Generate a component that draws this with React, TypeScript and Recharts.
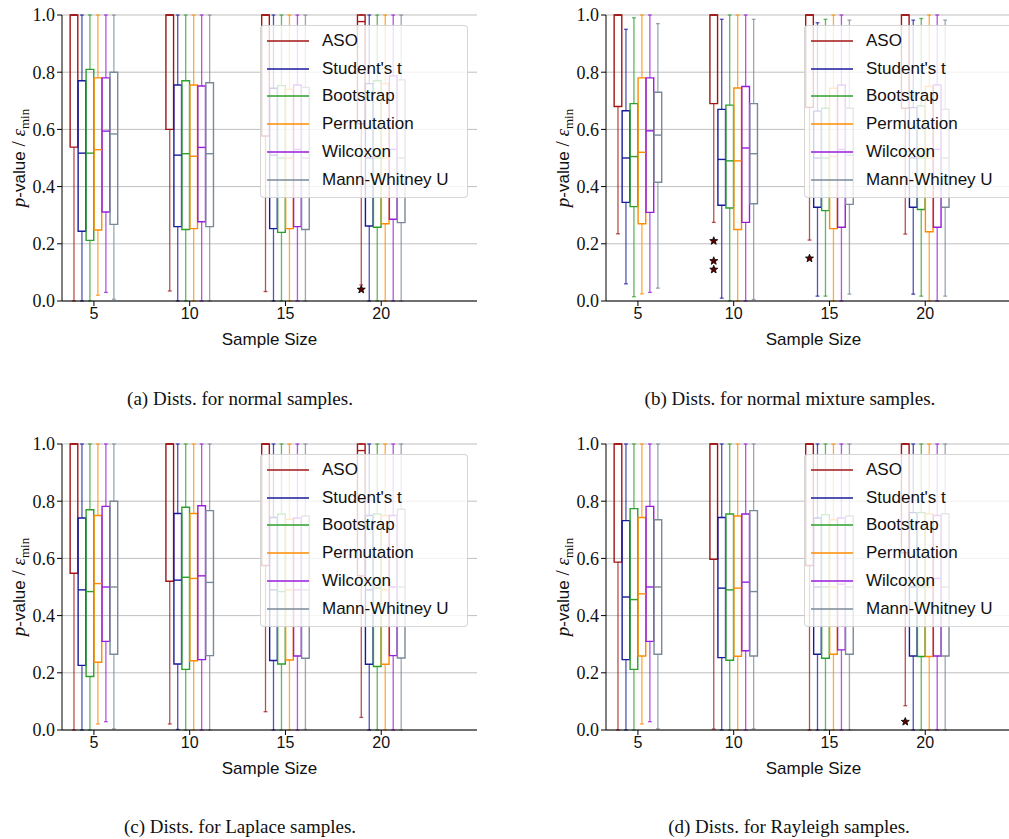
import React from 'react';
import {
  ComposedChart,
  XAxis,
  YAxis,
  CartesianGrid,
  ReferenceArea,
  ReferenceLine,
  Scatter,
} from 'recharts';

// ---------- categories / labels ----------
const SAMPLE_SIZES = [5, 10, 15, 20];
const METHODS = ['ASO', "Student's t", 'Bootstrap', 'Permutation', 'Wilcoxon', 'Mann-Whitney U'];
const METHOD_COLORS = ['#a31515', '#1a1a9c', '#2ca02c', '#ff8c00', '#9a1ddb', '#7a8999'];
const Y_TICKS = [0, 0.2, 0.4, 0.6, 0.8, 1.0];
const X_DOMAIN: [number, number] = [10 / 3, 25];

// ---------- values: [lower whisker, Q1, median, Q3, upper whisker] for sizes 5, 10, 15, 20 ----------
// (a) normal samples
const normalASO = [[0, 0.538, 1, 1, 1], [0.035, 0.6, 1, 1, 1], [0.033, 0.577, 1, 1, 1], [0.056, 0.62, 0.977, 1, 1]];
const normalStudent = [[0, 0.244, 0.517, 0.77, 1], [0, 0.26, 0.51, 0.755, 1], [0, 0.253, 0.51, 0.744, 1], [0, 0.262, 0.5, 0.76, 1]];
const normalBootstrap = [[0, 0.212, 0.517, 0.81, 1], [0, 0.25, 0.515, 0.77, 1], [0, 0.24, 0.5, 0.753, 1], [0, 0.258, 0.5, 0.77, 1]];
const normalPermutation = [[0.02, 0.248, 0.529, 0.78, 1], [0, 0.253, 0.506, 0.755, 1], [0, 0.253, 0.5, 0.74, 1], [0, 0.27, 0.5, 0.76, 1]];
const normalWilcoxon = [[0.03, 0.311, 0.594, 0.78, 1], [0, 0.277, 0.537, 0.752, 1], [0, 0.26, 0.53, 0.755, 1], [0, 0.286, 0.53, 0.787, 1]];
const normalMWU = [[0.006, 0.268, 0.584, 0.8, 1], [0, 0.26, 0.515, 0.763, 1], [0, 0.25, 0.5, 0.747, 1], [0, 0.274, 0.5, 0.773, 1]];
// fliers: [sample size, method index, value]
const normalFliers = [[20, 0, 0.04]];

// (b) normal mixture samples
const mixASO = [[0.235, 0.68, 1, 1, 1], [0.275, 0.69, 1, 1, 1], [0.213, 0.677, 1, 1, 1], [0.234, 0.674, 1, 1, 1]];
const mixStudent = [[0.06, 0.345, 0.5, 0.665, 0.95], [0.01, 0.335, 0.495, 0.67, 0.985], [0.017, 0.328, 0.5, 0.664, 0.973], [0.024, 0.328, 0.5, 0.676, 0.982]];
const mixBootstrap = [[0.015, 0.33, 0.505, 0.69, 0.99], [0, 0.325, 0.49, 0.685, 1], [0.017, 0.316, 0.5, 0.674, 0.985], [0.017, 0.32, 0.5, 0.682, 0.988]];
const mixPermutation = [[0.025, 0.27, 0.52, 0.78, 1], [0, 0.25, 0.49, 0.745, 1], [0, 0.253, 0.505, 0.744, 1], [0, 0.242, 0.5, 0.75, 1]];
const mixWilcoxon = [[0.03, 0.31, 0.595, 0.78, 1], [0, 0.275, 0.535, 0.75, 1], [0, 0.258, 0.53, 0.755, 1], [0, 0.258, 0.53, 0.755, 1]];
const mixMWU = [[0.045, 0.415, 0.58, 0.73, 0.97], [0.005, 0.34, 0.515, 0.69, 0.985], [0.024, 0.338, 0.51, 0.674, 0.982], [0.017, 0.328, 0.5, 0.67, 0.982]];
const mixFliers = [[10, 0, 0.21], [10, 0, 0.14], [10, 0, 0.11], [15, 0, 0.149]];

// (c) Laplace samples
const lapASO = [[0, 0.548, 1, 1, 1], [0.021, 0.52, 1, 1, 1], [0.064, 0.575, 1, 1, 1], [0.044, 0.539, 0.977, 1, 1]];
const lapStudent = [[0, 0.226, 0.49, 0.741, 1], [0.002, 0.231, 0.524, 0.757, 1], [0, 0.243, 0.49, 0.743, 1], [0, 0.23, 0.49, 0.75, 1]];
const lapBootstrap = [[0, 0.187, 0.484, 0.77, 1], [0, 0.212, 0.534, 0.779, 1], [0, 0.231, 0.484, 0.755, 1], [0, 0.222, 0.496, 0.755, 1]];
const lapPermutation = [[0.021, 0.237, 0.512, 0.75, 1], [0, 0.242, 0.53, 0.757, 1], [0, 0.245, 0.49, 0.737, 1], [0, 0.23, 0.49, 0.75, 1]];
const lapWilcoxon = [[0.029, 0.31, 0.5, 0.782, 1], [0, 0.246, 0.539, 0.784, 1], [0, 0.259, 0.49, 0.741, 1], [0, 0.26, 0.5, 0.75, 1]];
const lapMWU = [[0.004, 0.265, 0.5, 0.8, 1], [0, 0.26, 0.516, 0.767, 1], [0.002, 0.251, 0.49, 0.748, 1], [0, 0.252, 0.5, 0.772, 1]];
const lapFliers: number[][] = [];

// (d) Rayleigh samples
const rayASO = [[0, 0.587, 1, 1, 1], [0.003, 0.597, 1, 1, 1], [0, 0.575, 1, 1, 1], [0.085, 0.62, 1, 1, 1]];
const rayStudent = [[0, 0.246, 0.465, 0.732, 1], [0, 0.253, 0.496, 0.743, 1], [0, 0.265, 0.5, 0.741, 1], [0, 0.259, 0.5, 0.76, 1]];
const rayBootstrap = [[0, 0.212, 0.456, 0.774, 1], [0, 0.244, 0.49, 0.755, 1], [0, 0.251, 0.5, 0.753, 1], [0, 0.257, 0.5, 0.76, 1]];
const rayPermutation = [[0.021, 0.259, 0.476, 0.743, 1], [0, 0.258, 0.496, 0.748, 1], [0, 0.265, 0.5, 0.735, 1], [0, 0.257, 0.5, 0.755, 1]];
const rayWilcoxon = [[0.029, 0.31, 0.5, 0.782, 1], [0, 0.277, 0.517, 0.755, 1], [0, 0.28, 0.51, 0.741, 1], [0, 0.259, 0.53, 0.75, 1]];
const rayMWU = [[0.004, 0.265, 0.5, 0.735, 1], [0.004, 0.259, 0.484, 0.767, 1], [0, 0.265, 0.5, 0.748, 1], [0, 0.259, 0.5, 0.756, 1]];
const rayFliers = [[20, 0, 0.029]];

const CAPTIONS = [
  '(a) Dists. for normal samples.',
  '(b) Dists. for normal mixture samples.',
  '(c) Dists. for Laplace samples.',
  '(d) Dists. for Rayleigh samples.',
];

// ---------- layout constants ----------
const SANS = "'Liberation Sans', Arial, sans-serif";
const SERIF = "'Liberation Serif', 'Times New Roman', serif";
const GROUP_STEP = 5 / 12; // spacing between adjacent boxes, in x units
const BOX_HALF = 0.2;
const CAP_HALF = 0.1;
const CHART_W = 480;
const CHART_H = 355;

const Star = (props: any) => {
  const { cx, cy } = props;
  if (cx == null || cy == null) return null;
  const R = 4.2;
  const r = 1.8;
  const pts: string[] = [];
  for (let k = 0; k < 10; k++) {
    const ang = -Math.PI / 2 + (k * Math.PI) / 5;
    const rad = k % 2 === 0 ? R : r;
    pts.push(`${cx + rad * Math.cos(ang)},${cy + rad * Math.sin(ang)}`);
  }
  return <polygon points={pts.join(' ')} fill="#5c0000" stroke="#000" strokeWidth={0.8} />;
};

function boxElements(stats: number[][][], prefix: string) {
  const out: any[] = [];
  stats.forEach((series, m) => {
    const color = METHOD_COLORS[m];
    series.forEach((s, k) => {
      const [lo, q1, med, q3, hi] = s;
      const cx = SAMPLE_SIZES[k] + (m - 2.5) * GROUP_STEP;
      const key = `${prefix}-${m}-${k}`;
      out.push(
        <ReferenceLine key={key + 'wl'} segment={[{ x: cx, y: lo }, { x: cx, y: q1 }]} stroke={color} strokeOpacity={0.75} strokeWidth={1.3} ifOverflow="visible" />
      );
      out.push(
        <ReferenceLine key={key + 'wh'} segment={[{ x: cx, y: q3 }, { x: cx, y: hi }]} stroke={color} strokeOpacity={0.75} strokeWidth={1.3} ifOverflow="visible" />
      );
      out.push(
        <ReferenceLine key={key + 'cl'} segment={[{ x: cx - CAP_HALF, y: lo }, { x: cx + CAP_HALF, y: lo }]} stroke={color} strokeOpacity={0.75} strokeWidth={1.3} ifOverflow="visible" />
      );
      out.push(
        <ReferenceLine key={key + 'ch'} segment={[{ x: cx - CAP_HALF, y: hi }, { x: cx + CAP_HALF, y: hi }]} stroke={color} strokeOpacity={0.75} strokeWidth={1.3} ifOverflow="visible" />
      );
      out.push(
        <ReferenceArea key={key + 'box'} x1={cx - BOX_HALF} x2={cx + BOX_HALF} y1={q1} y2={q3} fill="none" fillOpacity={0} stroke={color} strokeWidth={1.4} ifOverflow="visible" />
      );
      out.push(
        <ReferenceLine key={key + 'md'} segment={[{ x: cx - BOX_HALF, y: med }, { x: cx + BOX_HALF, y: med }]} stroke={color} strokeWidth={1.4} ifOverflow="visible" />
      );
    });
  });
  return out;
}

const LegendBox = () => (
  <div
    style={{
      position: 'absolute',
      left: 260,
      top: 25,
      width: 208,
      height: 173,
      background: 'rgba(255,255,255,0.8)',
      border: '1px solid rgba(204,204,204,0.8)',
      borderRadius: 4,
      boxSizing: 'border-box',
      fontFamily: SANS,
      fontSize: 17,
      color: '#111',
    }}
  >
    {METHODS.map((m, i) => (
      <div
        key={m}
        style={{
          position: 'absolute',
          left: 0,
          top: 1 + i * 27.8,
          height: 27.8,
          width: '100%',
          display: 'flex',
          alignItems: 'center',
        }}
      >
        <svg width={42} height={4} style={{ marginLeft: 6, display: 'block', flex: 'none' }}>
          <line x1={0} y1={2} x2={42} y2={2} stroke={METHOD_COLORS[i]} strokeWidth={1.6} />
        </svg>
        <span style={{ marginLeft: 13, whiteSpace: 'nowrap' }}>{m}</span>
      </div>
    ))}
  </div>
);

const YLabel = () => (
  <div
    style={{
      position: 'absolute',
      left: 19 - 110,
      top: 158 - 13,
      width: 220,
      height: 26,
      lineHeight: '26px',
      textAlign: 'center',
      transform: 'rotate(-90deg)',
      fontSize: 17,
      whiteSpace: 'nowrap',
      color: '#111',
    }}
  >
    <span style={{ fontFamily: SERIF, fontStyle: 'italic', fontSize: 19 }}>p</span>
    <span style={{ fontFamily: SANS }}>-value</span>
    <span style={{ fontFamily: SERIF, fontSize: 19 }}>&nbsp;/&nbsp;</span>
    <span style={{ fontFamily: SERIF, fontStyle: 'italic', fontSize: 19 }}>ε</span>
    <span style={{ fontFamily: SERIF, fontSize: 13, position: 'relative', top: 4 }}>min</span>
  </div>
);

function Panel({ left, top, stats, fliers, id }: { left: number; top: number; stats: number[][][]; fliers: number[][]; id: string }) {
  const flierData = fliers.map((f) => ({ x: f[0] + (f[1] - 2.5) * GROUP_STEP, y: f[2] }));
  return (
    <div style={{ position: 'absolute', left, top, width: CHART_W, height: CHART_H }}>
      <ComposedChart width={CHART_W} height={CHART_H} margin={{ top: 15, right: 3, bottom: 0, left: 0 }}>
        <CartesianGrid vertical={false} stroke="#b8b8b8" strokeWidth={0.9} />
        <XAxis
          xAxisId={0}
          dataKey="x"
          type="number"
          domain={X_DOMAIN}
          allowDataOverflow
          ticks={SAMPLE_SIZES}
          height={54}
          tickSize={5}
          tickMargin={2}
          stroke="#000"
          tick={{ fill: '#111', fontSize: 16, fontFamily: SANS }}
          label={{ value: 'Sample Size', position: 'insideBottom', offset: 10, fill: '#111', fontSize: 17, fontFamily: SANS }}
        />
        <XAxis xAxisId="top" orientation="top" type="number" domain={X_DOMAIN} allowDataOverflow height={0} tick={false} tickLine={false} stroke="#000" />
        <YAxis
          yAxisId={0}
          type="number"
          domain={[0, 1]}
          allowDataOverflow
          ticks={Y_TICKS}
          width={62}
          tickSize={5}
          tickMargin={2}
          stroke="#000"
          tickFormatter={(v: number) => v.toFixed(1)}
          tick={{ fill: '#111', fontSize: 18, fontFamily: SERIF }}
        />
        <YAxis yAxisId="right" orientation="right" type="number" domain={[0, 1]} allowDataOverflow width={0} tick={false} tickLine={false} stroke="#000" />
        {boxElements(stats, id)}
        <Scatter data={flierData} dataKey="y" shape={<Star />} isAnimationActive={false} />
      </ComposedChart>
      <LegendBox />
      <YLabel />
    </div>
  );
}

const normalStats = [normalASO, normalStudent, normalBootstrap, normalPermutation, normalWilcoxon, normalMWU];
const mixStats = [mixASO, mixStudent, mixBootstrap, mixPermutation, mixWilcoxon, mixMWU];
const lapStats = [lapASO, lapStudent, lapBootstrap, lapPermutation, lapWilcoxon, lapMWU];
const rayStats = [rayASO, rayStudent, rayBootstrap, rayPermutation, rayWilcoxon, rayMWU];

const Caption = ({ text, cx, cy }: { text: string; cx: number; cy: number }) => (
  <div
    style={{
      position: 'absolute',
      left: cx - 250,
      top: cy - 12,
      width: 500,
      height: 24,
      lineHeight: '24px',
      textAlign: 'center',
      fontFamily: SERIF,
      fontSize: 19,
      color: '#111',
      whiteSpace: 'nowrap',
    }}
  >
    {text}
  </div>
);

export default function App() {
  return (
    <div
      style={{
        position: 'fixed',
        left: 0,
        top: 0,
        width: 1009,
        height: 839,
        overflow: 'hidden',
        background: '#fff',
      }}
    >
      <Panel id="a" left={0} top={0} stats={normalStats} fliers={normalFliers} />
      <Panel id="b" left={544} top={0} stats={mixStats} fliers={mixFliers} />
      <Panel id="c" left={0} top={429} stats={lapStats} fliers={lapFliers} />
      <Panel id="d" left={544} top={429} stats={rayStats} fliers={rayFliers} />
      <Caption text={CAPTIONS[0]} cx={240} cy={399} />
      <Caption text={CAPTIONS[1]} cx={790} cy={399} />
      <Caption text={CAPTIONS[2]} cx={240} cy={827} />
      <Caption text={CAPTIONS[3]} cx={789} cy={827} />
    </div>
  );
}
